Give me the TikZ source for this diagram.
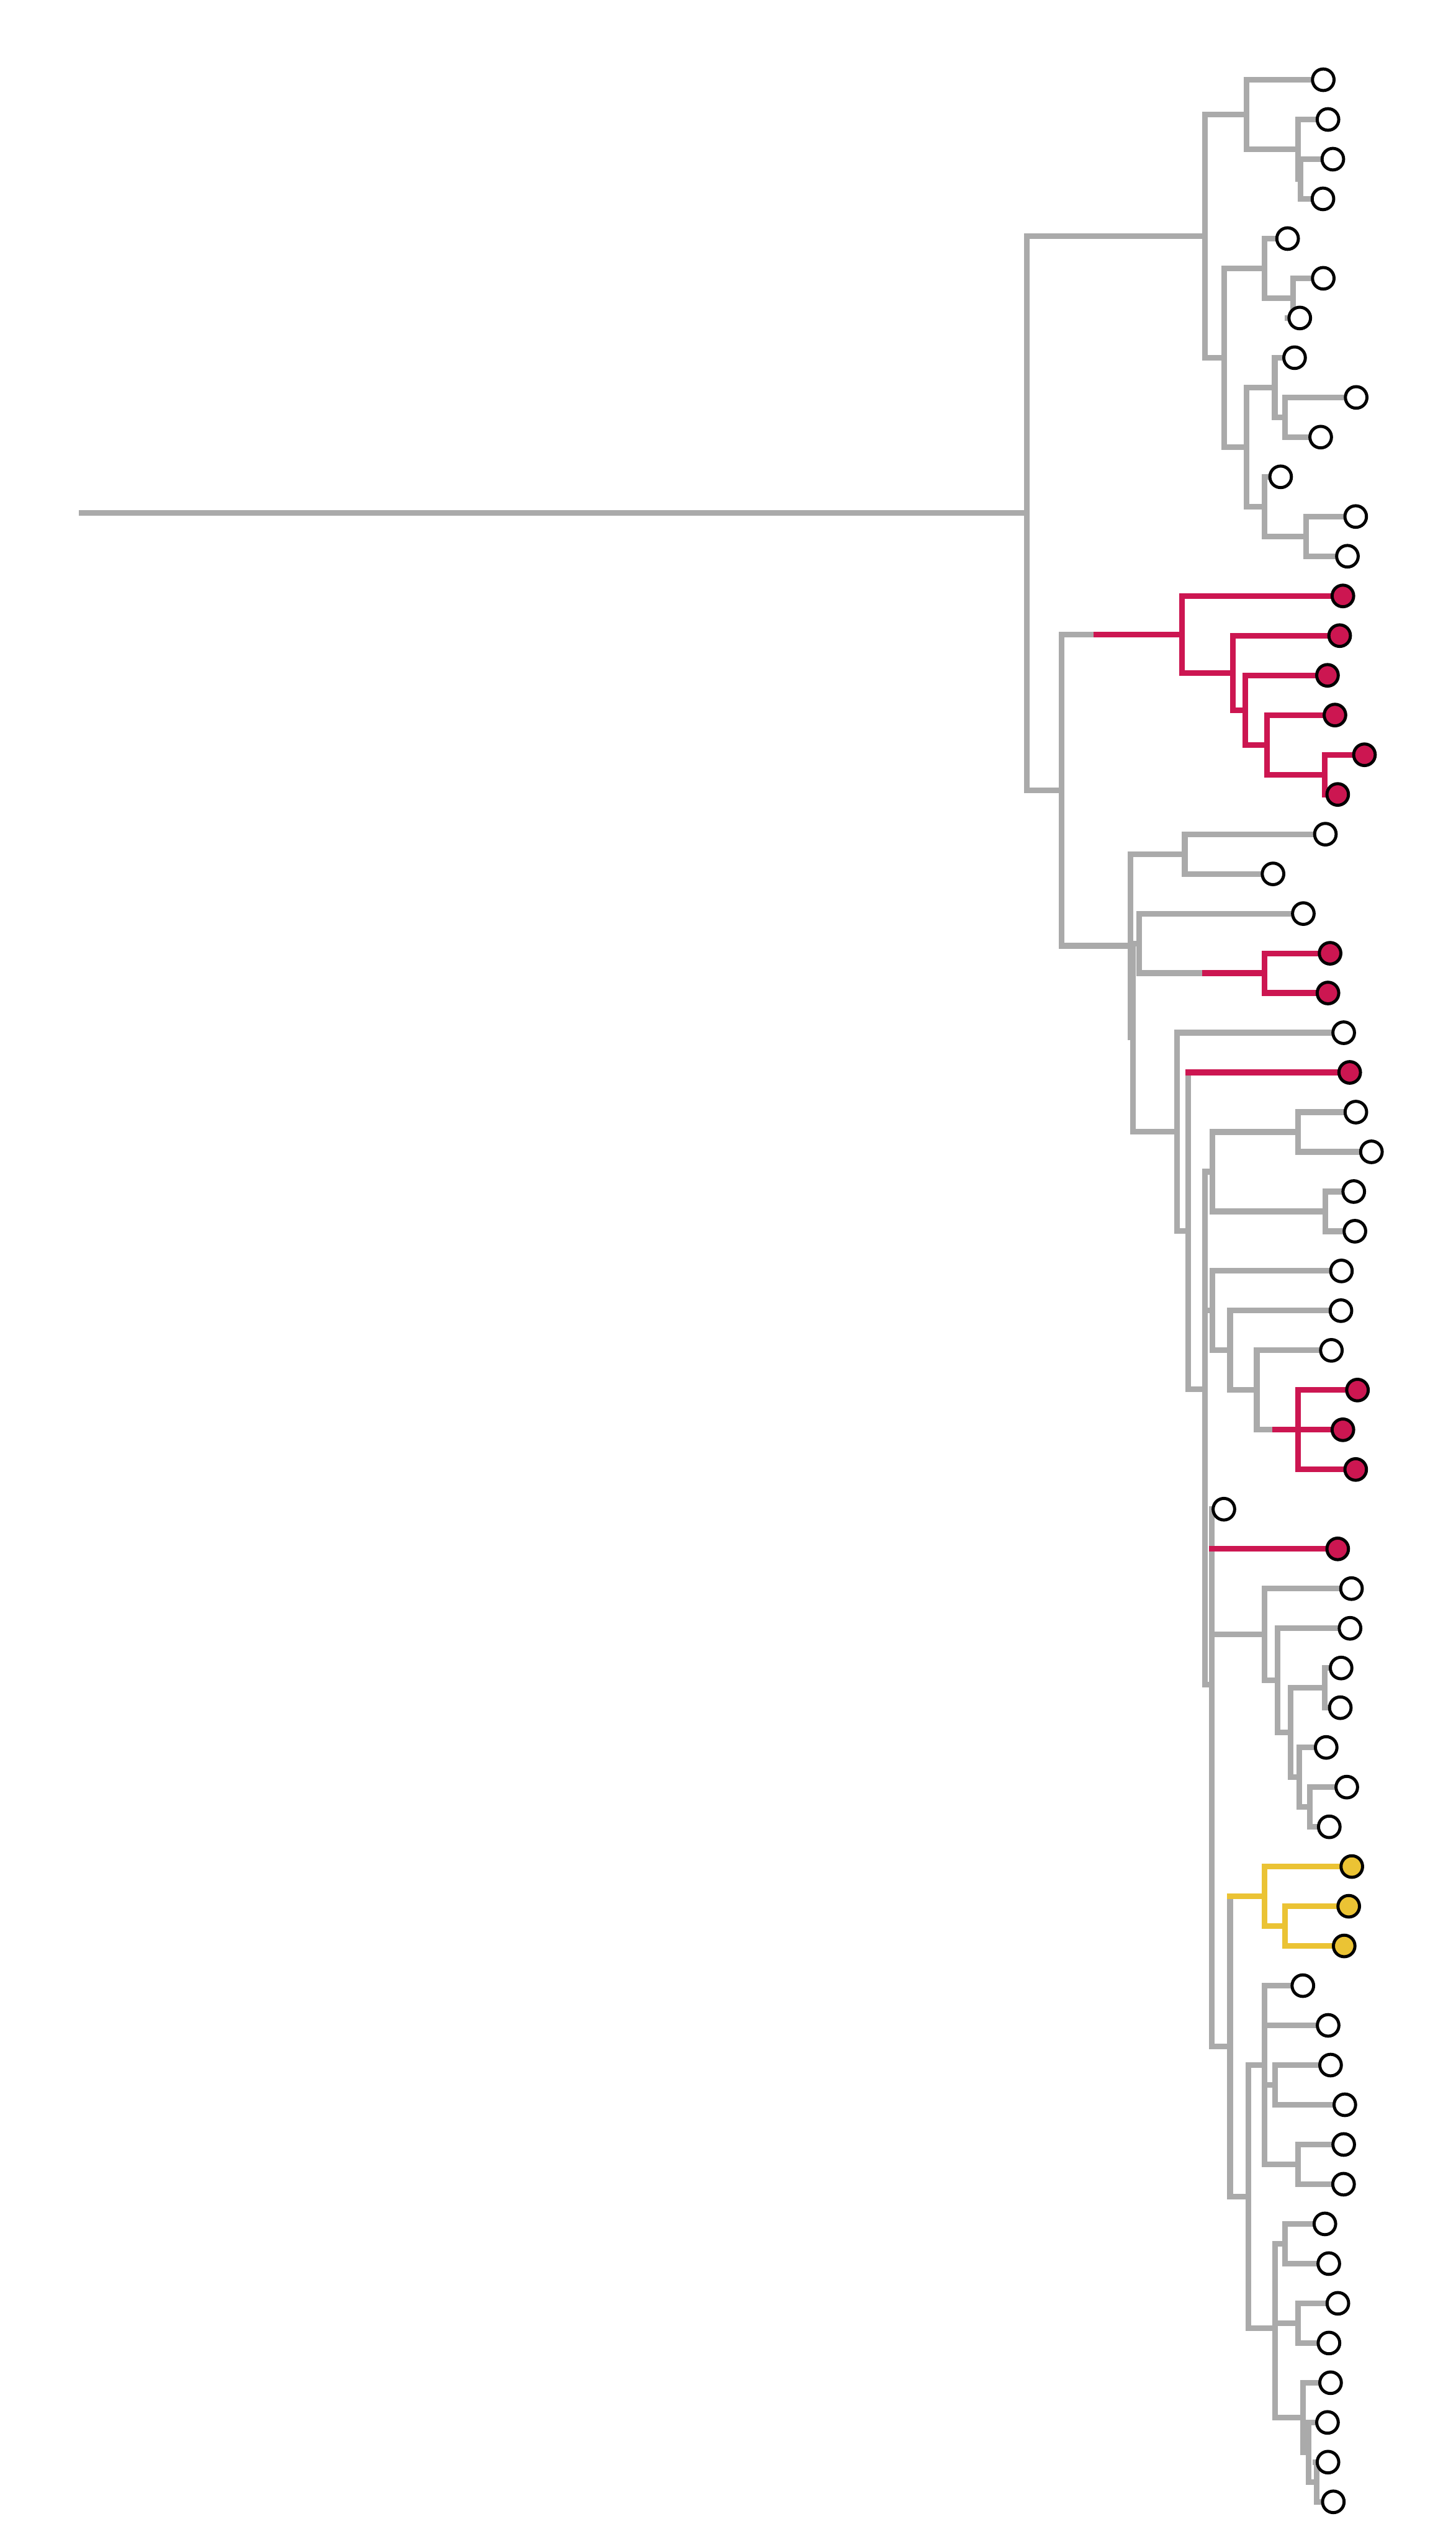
\documentclass[tikz,border=0pt]{standalone}
\usetikzlibrary{calc}
\pgfdeclarelayer{bg}
\pgfsetlayers{bg,main}
\definecolor{grc}{HTML}{AAAAAA}
\definecolor{rdc}{HTML}{CC1651}
\definecolor{ylc}{HTML}{EBC334}
\newcommand\bnode[4]{\path let \p1=(#3.center),\p2=(#4.center) in ({#2*0.02cm},{(\y1+\y2)/2}) coordinate (#1);}
\newcommand\tnode[5]{\path let \p1=(#3.center),\p2=(#4.center),\p3=(#5.center) in ({#2*0.02cm},{(\y1+\y2+\y3)/3}) coordinate (#1);}
\newcommand\qnode[6]{\path let \p1=(#3.center),\p2=(#4.center),\p3=(#5.center),\p4=(#6.center) in ({#2*0.02cm},{(\y1+\y2+\y3+\y4)/4}) coordinate (#1);}
\newcommand\bclade[4][gbr]{\draw[#1] (#2|-#3.center) -- (#2|-#4.center);
  \draw[#1] (#2|-#3.center) -- (#3); \draw[#1] (#2|-#4.center) -- (#4);}
\newcommand\tclade[5][gbr]{\draw[#1] (#2|-#3.center) -- (#2|-#5.center);
  \draw[#1] (#2|-#3.center) -- (#3); \draw[#1] (#2|-#4.center) -- (#4); \draw[#1] (#2|-#5.center) -- (#5);}
\newcommand\qclade[6][gbr]{\draw[#1] (#2|-#3.center) -- (#2|-#6.center);
  \draw[#1] (#2|-#3.center) -- (#3); \draw[#1] (#2|-#4.center) -- (#4);
  \draw[#1] (#2|-#5.center) -- (#5); \draw[#1] (#2|-#6.center) -- (#6);}
\tikzset{
  gbr/.style={draw=grc,line width=0.07cm,line cap=rect},
  rbr/.style={draw=rdc,line width=0.07cm,line cap=rect},
  ybr/.style={draw=ylc,line width=0.07cm,line cap=rect},
  rstem/.style={draw=rdc,line width=0.07cm,line cap=butt},
  leaf/.style={circle,draw=black,line width=0.038cm,minimum size=0.266cm,inner sep=0pt},
  leafw/.style={leaf,fill=white},
  leafr/.style={leaf,fill=rdc},
  leafy/.style={leaf,fill=ylc}
}
\begin{document}
\begin{tikzpicture}[x=0.02cm,y=-0.02cm]
\useasboundingbox (0,0) rectangle (898,1568);
% leaves
\foreach \xx/\cc [count=\i] in {
816.2/leafw,819.1/leafw,822.1/leafw,816.0/leafw,794.2/leafw,816.2/leafw,801.7/leafw,798.5/leafw,
836.5/leafw,814.6/leafw,789.9/leafw,836.2/leafw,831.1/leafw,
828.3/leafr,826.3/leafr,818.8/leafr,823.4/leafr,841.6/leafr,825.1/leafr,
817.5/leafw,785.2/leafw,803.9/leafw,820.4/leafr,819.1/leafr,828.8/leafw,832.5/leafr,
836.3/leafw,845.9/leafw,835.0/leafw,835.7/leafw,827.4/leafw,827.1/leafw,821.2/leafw,
837.3/leafr,828.3/leafr,836.2/leafr,754.9/leafw,825.1/leafr,
833.6/leafw,832.7/leafw,827.2/leafw,826.7/leafw,818.0/leafw,830.7/leafw,819.9/leafw,
833.8/leafy,831.9/leafy,829.1/leafy,
803.6/leafw,819.2/leafw,820.7/leafw,829.5/leafw,828.8/leafw,828.7/leafw,817.2/leafw,819.6/leafw,
825.2/leafw,819.7/leafw,820.7/leafw,818.8/leafw,819.1/leafw,822.4/leafw}
  \node[\cc] (l\i) at (\xx,{49.2+(\i-1)*24.492}) {};
% internal nodes
\bnode{C}{802.3}{l3}{l4}
\bnode{B}{800.7}{l2}{C}
\bnode{A1}{768.8}{l1}{B}
\bnode{E}{797.5}{l6}{l7}
\bnode{D}{780}{l5}{E}
\bnode{F2}{792.7}{l9}{l10}
\bnode{F}{786.3}{l8}{F2}
\bnode{F3}{805.5}{l12}{l13}
\bnode{Fb}{780}{l11}{F3}
\bnode{X3}{768.8}{F}{Fb}
\bnode{X2}{755.2}{D}{X3}
\bnode{X1}{743.2}{A1}{X2}
\bnode{RE}{817.2}{l18}{l19}
\bnode{RD}{781.6}{l17}{RE}
\bnode{RC}{768}{l16}{RD}
\bnode{RB}{760.3}{l15}{RC}
\bnode{RA}{728.9}{l14}{RB}
\bnode{K2021}{730.8}{l20}{l21}
\bnode{RP}{780}{l23}{l24}
\bnode{G3}{702.5}{l22}{RP}
\bnode{H27}{800.7}{l27}{l28}
\bnode{H29}{817.5}{l29}{l30}
\bnode{H1}{747.7}{H27}{H29}
\tnode{RT}{800.7}{l34}{l35}{l36}
\bnode{J3}{775.2}{l33}{RT}
\bnode{J2}{758.7}{l32}{J3}
\bnode{J1}{747.7}{l31}{J2}
\bnode{K11}{817.2}{l41}{l42}
\bnode{K13}{807.9}{l44}{l45}
\bnode{K12}{801.5}{l43}{K13}
\bnode{K10}{796}{K11}{K12}
\bnode{K9}{787.9}{l40}{K10}
\bnode{K8}{780}{l39}{K9}
\bnode{Y2}{792.7}{l47}{l48}
\bnode{Y}{780}{l46}{Y2}
\bnode{U51}{786.4}{l51}{l52}
\bnode{U53}{800.7}{l53}{l54}
\qnode{U}{780}{l49}{l50}{U51}{U53}
\bnode{W55}{792.7}{l55}{l56}
\bnode{W57}{800.7}{l57}{l58}
\bnode{W61}{812.2}{l61}{l62}
\bnode{W60}{807.3}{l60}{W61}
\bnode{W59}{803.6}{l59}{W60}
\tnode{W}{786.4}{W55}{W57}{W59}
\bnode{V}{770.1}{U}{W}
\bnode{M}{758.7}{Y}{V}
\qnode{N}{747.3}{l37}{l38}{K8}{M}
\tnode{G6}{743.2}{H1}{J1}{N}
\bnode{G5}{732.9}{l26}{G6}
\bnode{G4}{726}{l25}{G5}
\bnode{G2}{698.8}{G3}{G4}
\bnode{G1}{697.3}{K2021}{G2}
\bnode{R2}{654.8}{RA}{G1}
\bnode{root}{633.4}{X1}{R2}
\coordinate (rstart) at (50.5,0 |- root);
\begin{pgfonlayer}{bg}
% grey branches
\draw[gbr] (rstart) -- (root);
\bclade{root}{X1}{R2}
\bclade{X1}{A1}{X2}
\bclade{A1}{l1}{B}
\bclade{B}{l2}{C}
\bclade{C}{l3}{l4}
\bclade{X2}{D}{X3}
\bclade{D}{l5}{E}
\bclade{E}{l6}{l7}
\bclade{X3}{F}{Fb}
\bclade{F}{l8}{F2}
\bclade{F2}{l9}{l10}
\bclade{Fb}{l11}{F3}
\bclade{F3}{l12}{l13}
\bclade{R2}{RA}{G1}
\bclade{G1}{K2021}{G2}
\bclade{K2021}{l20}{l21}
\bclade{G2}{G3}{G4}
\bclade{G3}{l22}{RP}
\bclade{G4}{l25}{G5}
\bclade{G5}{l26}{G6}
\tclade{G6}{H1}{J1}{N}
\bclade{H1}{H27}{H29}
\bclade{H27}{l27}{l28}
\bclade{H29}{l29}{l30}
\bclade{J1}{l31}{J2}
\bclade{J2}{l32}{J3}
\bclade{J3}{l33}{RT}
\qclade{N}{l37}{l38}{K8}{M}
\bclade{K8}{l39}{K9}
\bclade{K9}{l40}{K10}
\bclade{K10}{K11}{K12}
\bclade{K11}{l41}{l42}
\bclade{K12}{l43}{K13}
\bclade{K13}{l44}{l45}
\bclade{M}{Y}{V}
\bclade{V}{U}{W}
\qclade{U}{l49}{l50}{U51}{U53}
\bclade{U51}{l51}{l52}
\bclade{U53}{l53}{l54}
\tclade{W}{W55}{W57}{W59}
\bclade{W55}{l55}{l56}
\bclade{W57}{l57}{l58}
\bclade{W59}{l59}{W60}
\bclade{W60}{l60}{W61}
\bclade{W61}{l61}{l62}
% red branches
\draw[rstem] (674.6,0 |- RA) -- (RA);
\bclade[rbr]{RA}{l14}{RB}
\bclade[rbr]{RB}{l15}{RC}
\bclade[rbr]{RC}{l16}{RD}
\bclade[rbr]{RD}{l17}{RE}
\bclade[rbr]{RE}{l18}{l19}
\draw[rstem] (741.6,0 |- RP) -- (RP);
\bclade[rbr]{RP}{l23}{l24}
\draw[rstem] (784.8,0 |- RT) -- (RT);
\tclade[rbr]{RT}{l34}{l35}{l36}
\draw[rbr] (G5|-l26.center) -- (l26);
\draw[rbr] (N|-l38.center) -- (l38);
% yellow branches
\draw[ybr] (M|-Y.center) -- (Y);
\bclade[ybr]{Y}{l46}{Y2}
\bclade[ybr]{Y2}{l47}{l48}
\end{pgfonlayer}
\end{tikzpicture}
\end{document}
